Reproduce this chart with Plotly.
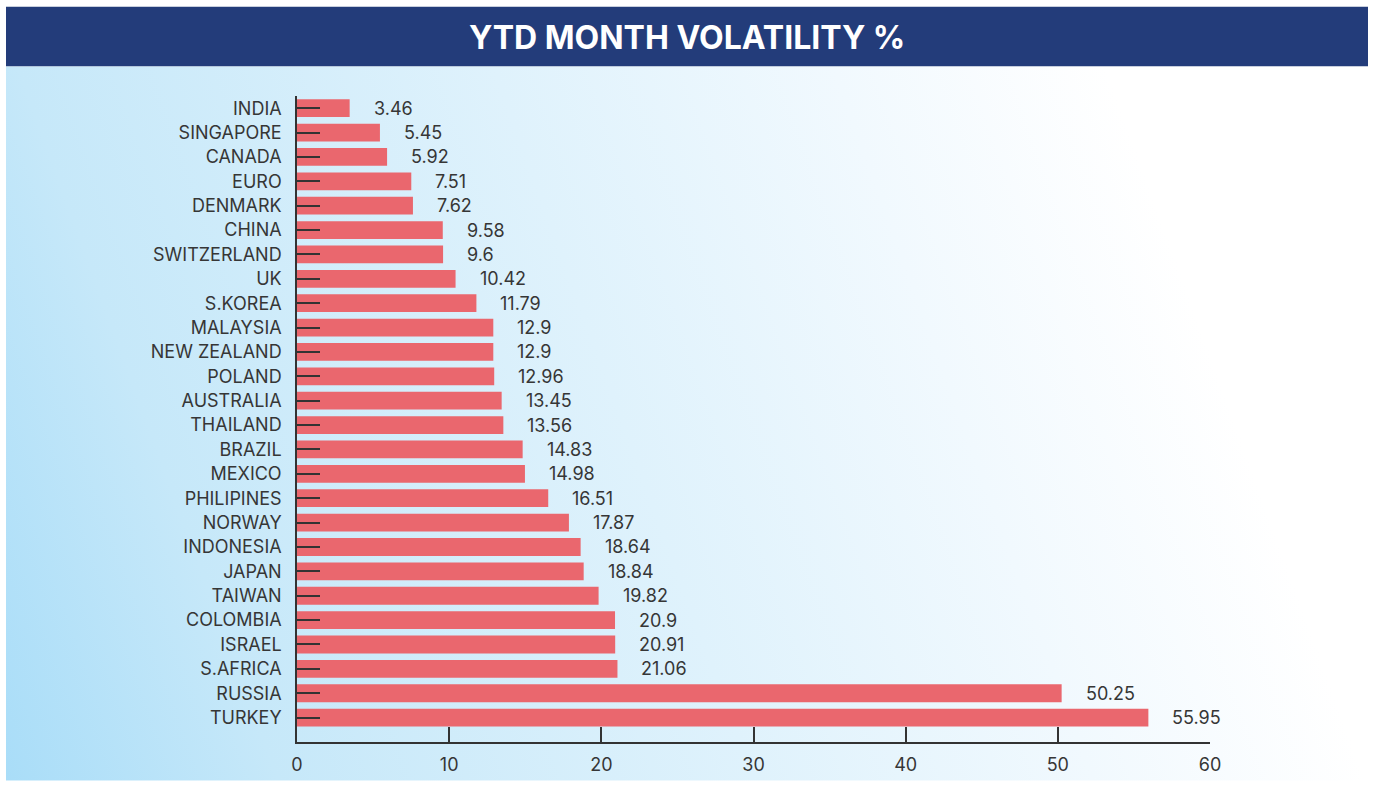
import base64
import plotly.graph_objects as go

# ---- data ----
countries = ["INDIA", "SINGAPORE", "CANADA", "EURO", "DENMARK", "CHINA", "SWITZERLAND", "UK",
             "S.KOREA", "MALAYSIA", "NEW ZEALAND", "POLAND", "AUSTRALIA", "THAILAND", "BRAZIL",
             "MEXICO", "PHILIPINES", "NORWAY", "INDONESIA", "JAPAN", "TAIWAN", "COLOMBIA",
             "ISRAEL", "S.AFRICA", "RUSSIA", "TURKEY"]
volatility = [3.46, 5.45, 5.92, 7.51, 7.62, 9.58, 9.6, 10.42, 11.79, 12.9, 12.9, 12.96, 13.45,
              13.56, 14.83, 14.98, 16.51, 17.87, 18.64, 18.84, 19.82, 20.9, 20.91, 21.06,
              50.25, 55.95]
x_ticks = [0, 10, 20, 30, 40, 50, 60]
title_text = "YTD MONTH VOLATILITY %"

W, H = 1375, 787
L, R, T, B = 297, 1210, 96, 748          # plot area in pixels
PW, PH = R - L, B - T
FONT = "Inter, Roboto, sans-serif"
TXT = "#363636"


def px(x):   # pixel x -> paper x
    return (x - L) / PW


def py(y):   # pixel y -> paper y
    return (B - y) / PH


fig = go.Figure()
fig.add_trace(go.Bar(
    x=volatility, y=countries, orientation="h",
    marker=dict(color="#ea676e", line=dict(width=0)),
    hoverinfo="x+y",
))

# value labels
for c, v in zip(countries, volatility):
    fig.add_annotation(x=v, y=c, text=f"{v:g}", showarrow=False, xanchor="left",
                       xshift=22, font=dict(family=FONT, size=18, color=TXT))

# title band
fig.add_shape(type="rect", xref="paper", yref="paper",
              x0=px(6), x1=px(1368), y0=py(66), y1=py(6),
              fillcolor="#233c7a", line=dict(width=0), layer="below")
fig.add_annotation(xref="paper", yref="paper", x=px(687), y=py(37),
                   text=f"<b>{title_text}</b>", showarrow=False,
                   font=dict(family=FONT, size=32, color="white"),
                   xanchor="center", yanchor="middle")

# gradient background
svg = ('<svg xmlns="http://www.w3.org/2000/svg" width="1362" height="721" viewBox="0 0 1362 721" '
       'preserveAspectRatio="none"><defs><linearGradient id="g" gradientUnits="userSpaceOnUse" '
       'x1="0" y1="721" x2="1203" y2="287">'
       '<stop offset="0" stop-color="#a9ddf8"/><stop offset="0.2" stop-color="#c6e8f9"/>'
       '<stop offset="0.55" stop-color="#dff2fc"/><stop offset="0.8" stop-color="#f1f9fe"/>'
       '<stop offset="1" stop-color="#ffffff"/>'
       '</linearGradient></defs><rect width="1362" height="721" fill="url(#g)"/></svg>')
src = "data:image/svg+xml;base64," + base64.b64encode(svg.encode()).decode()
fig.add_layout_image(source=src, xref="paper", yref="paper", x=px(6), y=py(66),
                     sizex=1362 / PW, sizey=721 / PH, sizing="stretch",
                     xanchor="left", yanchor="top", layer="below")

fig.update_layout(
    width=W, height=H,
    margin=dict(l=L, r=W - R, t=T, b=H - B, pad=0),
    paper_bgcolor="white", plot_bgcolor="rgba(0,0,0,0)",
    bargap=0.27, showlegend=False,
    font=dict(family=FONT, size=18, color=TXT),
)
fig.update_xaxes(range=[0, 60], tickvals=x_ticks, ticks="inside", ticklen=15,
                 tickwidth=1.5, tickcolor="#333", showline=True, linecolor="#333",
                 linewidth=1.5, showgrid=False, zeroline=False,
                 tickfont=dict(family=FONT, size=18, color=TXT), ticklabelstandoff=6)
fig.update_yaxes(categoryorder="array", categoryarray=countries, range=[26, -0.5],
                 ticks="inside", ticklen=23, tickwidth=1.5, tickcolor="#333",
                 showline=True, linecolor="#333", linewidth=1.5, showgrid=False,
                 zeroline=False, tickfont=dict(family=FONT, size=18, color=TXT),
                 ticklabelstandoff=10)

fig.write_html("out.html", config={"displayModeBar": False},
               post_script="document.body.style.margin='0';document.body.style.overflow='hidden';")
